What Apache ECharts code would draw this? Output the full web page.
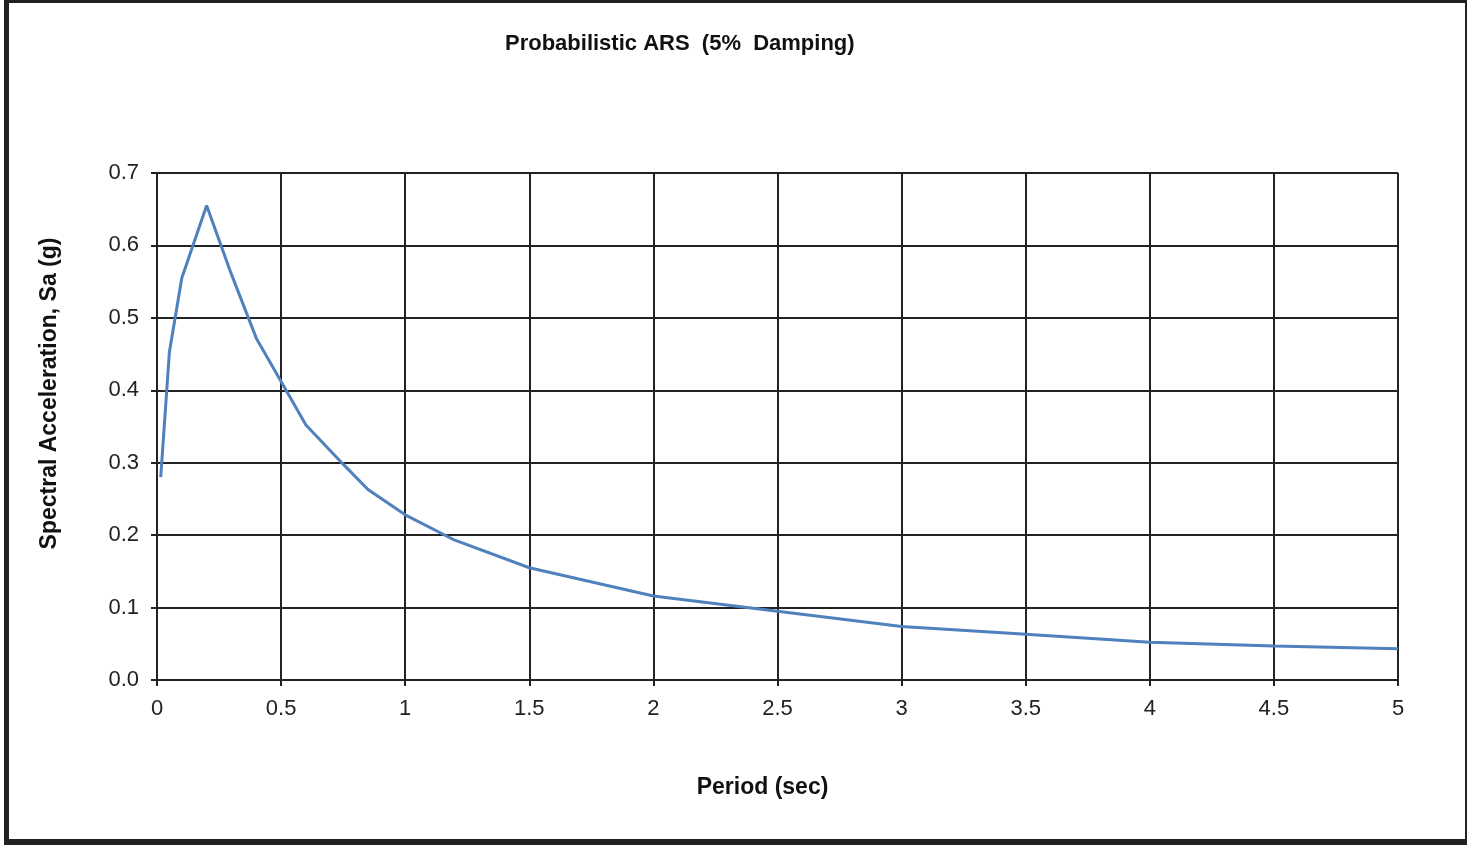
<!DOCTYPE html>
<html>
<head>
<meta charset="utf-8">
<script src="https://cdn.jsdelivr.net/npm/echarts@6/dist/echarts.min.js"></script>
<style>
  body { margin: 0; background: #fff; }
  #main { position: absolute; left: 0; top: 0; width: 1467px; height: 845px; }
  #frame { position: absolute; left: 4px; top: 0; width: 1463px; height: 845px; box-sizing: border-box;
           border-style: solid; border-color: #222; border-width: 3px 2px 6px 5px; pointer-events: none; }
</style>
</head>
<body>
<div id="main"></div>
<div id="frame"></div>
<script>
// period (sec) and spectral acceleration (g)
var periods = [0.015, 0.05, 0.1, 0.2, 0.3, 0.4, 0.5, 0.6, 0.75, 0.85, 1.0, 1.2, 1.5, 2.0, 2.5, 3.0, 3.5, 4.0, 4.5, 5.0];
var sa = [0.280, 0.453, 0.555, 0.655, 0.560, 0.472, 0.412, 0.352, 0.298, 0.263, 0.228, 0.193, 0.155, 0.116, 0.095, 0.074, 0.063, 0.052, 0.047, 0.043];

var titleText = 'Probabilistic ARS  (5%  Damping)';
var xName = 'Period (sec)';
var yName = 'Spectral Acceleration, Sa (g)';

var points = periods.map(function (p, i) { return [p, sa[i]]; });

var myChart = echarts.init(document.getElementById('main'));
var font = '"Liberation Sans", Arial, sans-serif';
var options = {
    animation: false,
    title: {
        text: titleText,
        left: 500,
        top: 28,
        textStyle: { fontFamily: font, fontSize: 22, fontWeight: 'bold', color: '#111' }
    },
    grid: { left: 157, right: 69, top: 173, bottom: 165, containLabel: false },
    xAxis: {
        type: 'value',
        min: 0, max: 5, interval: 0.5,
        name: xName,
        nameLocation: 'middle',
        nameGap: 96,
        nameTextStyle: { fontFamily: font, fontSize: 23, fontWeight: 'bold', color: '#111', padding: [0, 30, 0, 0] },
        axisLine: { show: true, lineStyle: { color: '#222', width: 2 } },
        axisTick: { show: true, length: 6, lineStyle: { color: '#222', width: 2 } },
        axisLabel: { margin: 18, fontFamily: font, fontSize: 22, color: '#222' },
        splitLine: { show: true, lineStyle: { color: '#222', width: 2 } }
    },
    yAxis: {
        type: 'value',
        min: 0, max: 0.7, interval: 0.1,
        name: yName,
        nameLocation: 'middle',
        nameGap: 96,
        nameTextStyle: { fontFamily: font, fontSize: 23, fontWeight: 'bold', color: '#111', padding: [0, 0, 0, 66] },
        axisLine: { show: true, lineStyle: { color: '#222', width: 2 } },
        axisTick: { show: true, length: 6, lineStyle: { color: '#222', width: 2 } },
        axisLabel: {
            margin: 18, fontFamily: font, fontSize: 22, color: '#222',
            formatter: function (v) { return v.toFixed(1); }
        },
        splitLine: { show: true, lineStyle: { color: '#222', width: 2 } }
    },
    series: [{
        type: 'line',
        data: points,
        symbol: 'none',
        lineStyle: { color: '#4F81BD', width: 3 }
    }]
};
myChart.setOption(options);
</script>
</body>
</html>
